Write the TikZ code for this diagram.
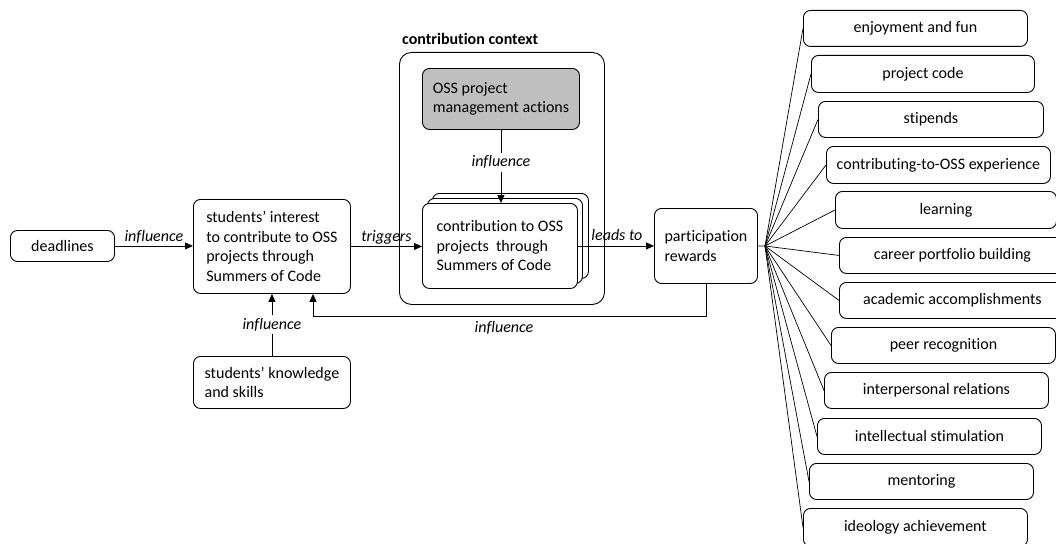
\documentclass[tikz,border=0pt]{standalone}
\usepackage{fontspec}
\setmainfont{Carlito}[Ligatures=NoCommon]
\usetikzlibrary{arrows.meta}
\definecolor{boxgray}{RGB}{191,191,191}
\begin{document}
\begin{tikzpicture}[x=1pt,y=-1pt,
  every node/.style={font=\fontsize{16}{19.5}\selectfont},
  box/.style={draw, line width=0.9pt, rounded corners=7pt, anchor=north west,
              inner sep=0pt, align=left},
  listbox/.style={box, align=center, minimum height=36pt},
  conn/.style={line width=0.9pt},
  arr/.style={conn, -{Triangle[length=8pt,width=7pt]}},
  rel/.style={font=\fontsize{16}{19.5}\selectfont\itshape, inner sep=0pt},
  onrel/.style={rel, fill=white, inner xsep=2pt, inner ysep=3pt}]
\useasboundingbox (0,0) rectangle (1056,543);
\clip (0,0) rectangle (1056,543);

% left column
\node[box, align=center, minimum width=104pt, minimum height=31pt] (deadlines) at (10,230) {deadlines};
\node[box, minimum width=157pt, minimum height=94pt] (interest) at (193,199)
  {students’ interest\\to contribute to OSS\\projects through\\Summers of Code};
\node[box, minimum width=157pt, minimum height=52pt] (knowledge) at (193,356)
  {students’ knowledge\\and skills};

% contribution context
\node[draw, line width=0.9pt, rounded corners=12pt, anchor=north west, inner sep=0pt,
      minimum width=205pt, minimum height=252pt] (context) at (399,52) {};
\node[anchor=west, inner sep=0pt, font=\fontsize{16}{19.5}\selectfont\bfseries] (ctitle) at (402,39) {contribution context};
\node[box, fill=boxgray, minimum width=157pt, minimum height=61pt] (mgmt) at (422,68)
  {OSS project\\management actions};
\node[box, fill=white, minimum width=156pt, minimum height=85pt] (back) at (432,193) {};
\node[box, fill=white, minimum width=155pt, minimum height=85pt] (mid) at (427,198) {};
\node[box, fill=white, minimum width=155pt, minimum height=85pt] (front) at (422,203)
  {contribution to OSS\\projects~ through\\Summers of Code};

% rewards
\node[box, minimum width=103pt, minimum height=75pt] (rewards) at (654,208)
  {participation\\rewards};

% list of rewards
\node[listbox, minimum width=224pt] (r1) at (803,10) {enjoyment and fun};
\node[listbox, minimum width=223pt, minimum height=37pt] (r2) at (811,55) {project code};
\node[listbox, minimum width=225pt] (r3) at (818,101) {stipends};
\node[listbox, minimum width=224pt, minimum height=37pt] (r4) at (826,146) {contributing-to-OSS experience};
\node[listbox, minimum width=221pt, minimum height=37pt] (r5) at (835,191) {learning};
\node[listbox, minimum width=226pt] (r6) at (839,237) {career portfolio building};
\node[listbox, minimum width=226pt] (r7) at (839,282) {academic accomplishments};
\node[listbox, minimum width=224pt] (r8) at (831,327) {peer recognition};
\node[listbox, minimum width=224pt] (r9) at (824,372) {interpersonal relations};
\node[listbox, minimum width=224pt] (r10) at (817,418) {intellectual stimulation};
\node[listbox, minimum width=224pt] (r11) at (809,463) {mentoring};
\node[listbox, minimum width=224pt, minimum height=38pt] (r12) at (803,508) {ideology achievement};

% relations
\draw[arr] (deadlines.east) -- (deadlines.east -| interest.west)
  node[rel, midway, anchor=base, yshift=4pt] (l1) {influence};
\draw[arr] (interest.east) -- (interest.east -| front.west)
  node[rel, midway, anchor=base, yshift=5pt] (l2) {triggers};
\draw[arr] (front.east) -- (front.east -| rewards.west)
  node[rel, midway, anchor=base, yshift=5pt, xshift=1pt] (l3) {leads to};
\draw[arr] (mgmt.south) -- (mgmt.south |- front.north)
  node[onrel, pos=0.44] (l4) {influence};
\draw[arr] (knowledge.north) -- (interest.south -| knowledge.north)
  node[onrel, midway] (l5) {influence};
\coordinate (fbturn) at (313,316);
\draw[arr] (rewards.south) |- (fbturn) -- (fbturn |- interest.south);
\node[rel, anchor=base] (l6) at (504,332) {influence};

% fan of rewards
\coordinate (hub) at (765,246);
\draw[conn] (rewards.east) -- (hub);
\foreach \r in {r1,r2,r3,r4,r5,r6,r7,r8,r9,r10,r11,r12}
  \draw[line width=0.7pt] (hub) -- (\r.west);
\end{tikzpicture}
\end{document}
